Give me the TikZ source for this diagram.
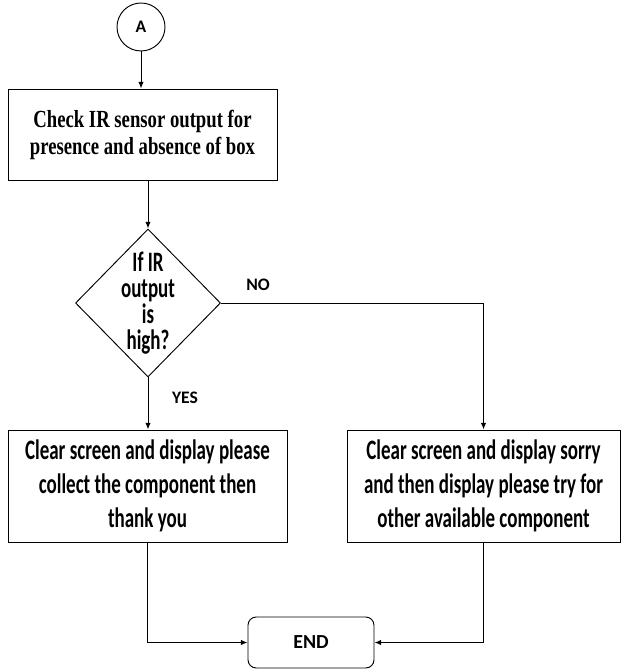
\documentclass[tikz,border=0pt]{standalone}
\usepackage{fontspec}
\usetikzlibrary{arrows.meta, positioning, shapes.geometric}
\newfontfamily\serifbf{Liberation Serif}[FakeStretch=0.76]
\newfontfamily\calib{Carlito}
\newfontfamily\calibn{Carlito}[FakeStretch=0.675]
\tikzset{
  every picture/.style={line width=0.8pt},
  box/.style={draw, rectangle, align=center, inner sep=2pt},
  arrow/.style={-{Latex[length=2mm, width=1.6mm]}, line width=0.8pt},
  lbl/.style={font=\calib\bfseries\fontsize{15}{18}\selectfont},
}

\begin{document}
\begin{tikzpicture}[
    connector/.style={draw, circle, minimum size=1.44cm, inner sep=0pt, font=\calib\bfseries\fontsize{15}{18}\selectfont},
    proc/.style={box, font=\serifbf\bfseries\fontsize{21}{23}\selectfont},
    act/.style={box, font=\calibn\bfseries\fontsize{24}{29}\selectfont},
    decide/.style={draw, diamond, aspect=1, minimum width=4.35cm, minimum height=4.44cm, inner sep=0pt,
      label={[align=center, font=\calibn\bfseries\fontsize{24}{22}\selectfont]center:#1}},
    stop/.style={draw, rounded corners=7pt, minimum width=3.78cm, minimum height=1.53cm, font=\calib\bfseries\fontsize{17}{20}\selectfont},
  ]
  \useasboundingbox (0,0) rectangle (18.63,-20.1);

  % start
  \node[connector] (a) at (4.23,-0.81) {A};
  \node[proc, minimum width=8.07cm, minimum height=2.73cm] (check) at (4.275,-4.035) {Check IR sensor output for\\presence and absence of box};
  \draw[arrow] (a.south) -- (a.south |- check.north);

  % decision
  \node[decide={If IR\\output\\is\\high?}] (ir) at (4.44,-9.09) {};
  \draw[arrow] (ir.north |- check.south) -- (ir.north);

  % outcomes
  \node[act, minimum width=8.37cm, minimum height=3.36cm] (yes) at (4.425,-14.58) {Clear screen and display please\\collect the component then\\thank you};
  \node[act, minimum width=8.19cm, minimum height=3.36cm] (no) at (14.505,-14.58) {Clear screen and display sorry\\and then display please try for\\other available component};
  \draw[arrow] (ir.south) -- (ir.south |- yes.north);
  \draw[arrow] (ir.east) -| (no.north);
  \node[lbl] (yeslbl) at (5.55,-11.94) {YES};
  \node[lbl] (nolbl) at (7.74,-8.55) {NO};

  % end
  \node[stop] (end) at (9.33,-19.275) {END};
  \draw[arrow] (yes.south) |- (end.west);
  \draw[arrow] (no.south) |- (end.east);
\end{tikzpicture}
\end{document}
